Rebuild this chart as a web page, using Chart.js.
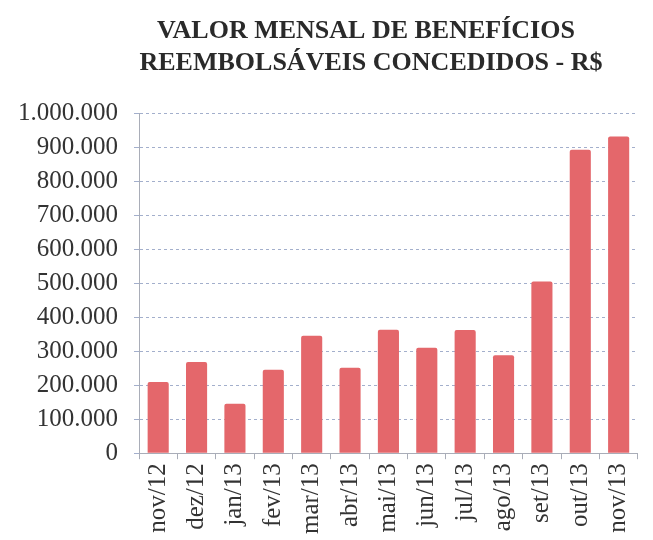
<!DOCTYPE html>
<html>
<head>
<meta charset="utf-8">
<script src="https://cdn.jsdelivr.net/npm/chart.js@4.4.0/dist/chart.umd.min.js"></script>
<style>
  html, body { margin: 0; padding: 0; background: #ffffff; }
  #wrap { width: 653px; height: 540px; position: relative; }
</style>
</head>
<body>
<div id="wrap"><canvas id="grafico"></canvas></div>
<script>
// dados
const meses = ['nov/12', 'dez/12', 'jan/13', 'fev/13', 'mar/13', 'abr/13', 'mai/13',
               'jun/13', 'jul/13', 'ago/13', 'set/13', 'out/13', 'nov/13'];
const valores = [209000, 268000, 145000, 245000, 345000, 251000, 363000,
                 310000, 362000, 288000, 505000, 892000, 931000];
const titulo = ['VALOR MENSAL DE BENEFÍCIOS', 'REEMBOLSÁVEIS CONCEDIDOS - R$'];
const eixoMin = 0;
const eixoMax = 1000000;
const passo = 100000;

const corBarra = '#e4676b';
const corTexto = '#333333';

// formato brasileiro: 1.000.000
function formatar(v) {
    return String(v).replace(/\B(?=(\d{3})+(?!\d))/g, '.');
}

// título desenhado à parte para ficar na mesma posição do original
const tituloPlugin = {
    id: 'tituloPlugin',
    afterDraw(chart) {
        const ctx = chart.ctx;
        ctx.save();
        ctx.fillStyle = '#2a2a2a';
        ctx.font = "bold 26px 'Liberation Serif', 'Times New Roman', serif";
        ctx.textAlign = 'center';
        ctx.textBaseline = 'alphabetic';
        ctx.fillText(titulo[0], 366, 38);
        ctx.fillText(titulo[1], 371, 70);
        ctx.restore();
    }
};

Chart.defaults.font.family = "'Liberation Serif', 'Times New Roman', serif";
Chart.defaults.color = corTexto;

new Chart(document.getElementById('grafico'), {
    type: 'bar',
    data: {
        labels: meses,
        datasets: [{
            data: valores,
            backgroundColor: corBarra,
            borderRadius: 2,
            borderSkipped: 'bottom',
            barPercentage: 0.55,
            categoryPercentage: 1
        }]
    },
    options: {
        responsive: true,
        maintainAspectRatio: false,
        animation: false,
        layout: { padding: { left: 2, right: 9, top: 113, bottom: 2 } },
        plugins: {
            legend: { display: false },
            tooltip: { enabled: false }
        },
        scales: {
            y: {
                min: eixoMin,
                max: eixoMax,
                ticks: {
                    stepSize: passo,
                    padding: 16,
                    font: { size: 25 },
                    color: corTexto,
                    callback: v => formatar(v)
                },
                grid: {
                    color: '#a3afcc',
                    lineWidth: 1,
                    tickLength: 5,
                    tickColor: '#a3afcc'
                },
                border: { display: true, color: '#a9adb8', dash: [3, 3] }
            },
            x: {
                ticks: {
                    minRotation: 90,
                    maxRotation: 90,
                    autoSkip: false,
                    padding: 4,
                    font: { size: 25 },
                    color: corTexto
                },
                grid: {
                    offset: true,
                    drawOnChartArea: false,
                    drawTicks: true,
                    tickLength: 6,
                    color: '#a9adb8'
                },
                border: { display: true, color: '#a9adb8' }
            }
        }
    },
    plugins: [tituloPlugin]
});
</script>
</body>
</html>
